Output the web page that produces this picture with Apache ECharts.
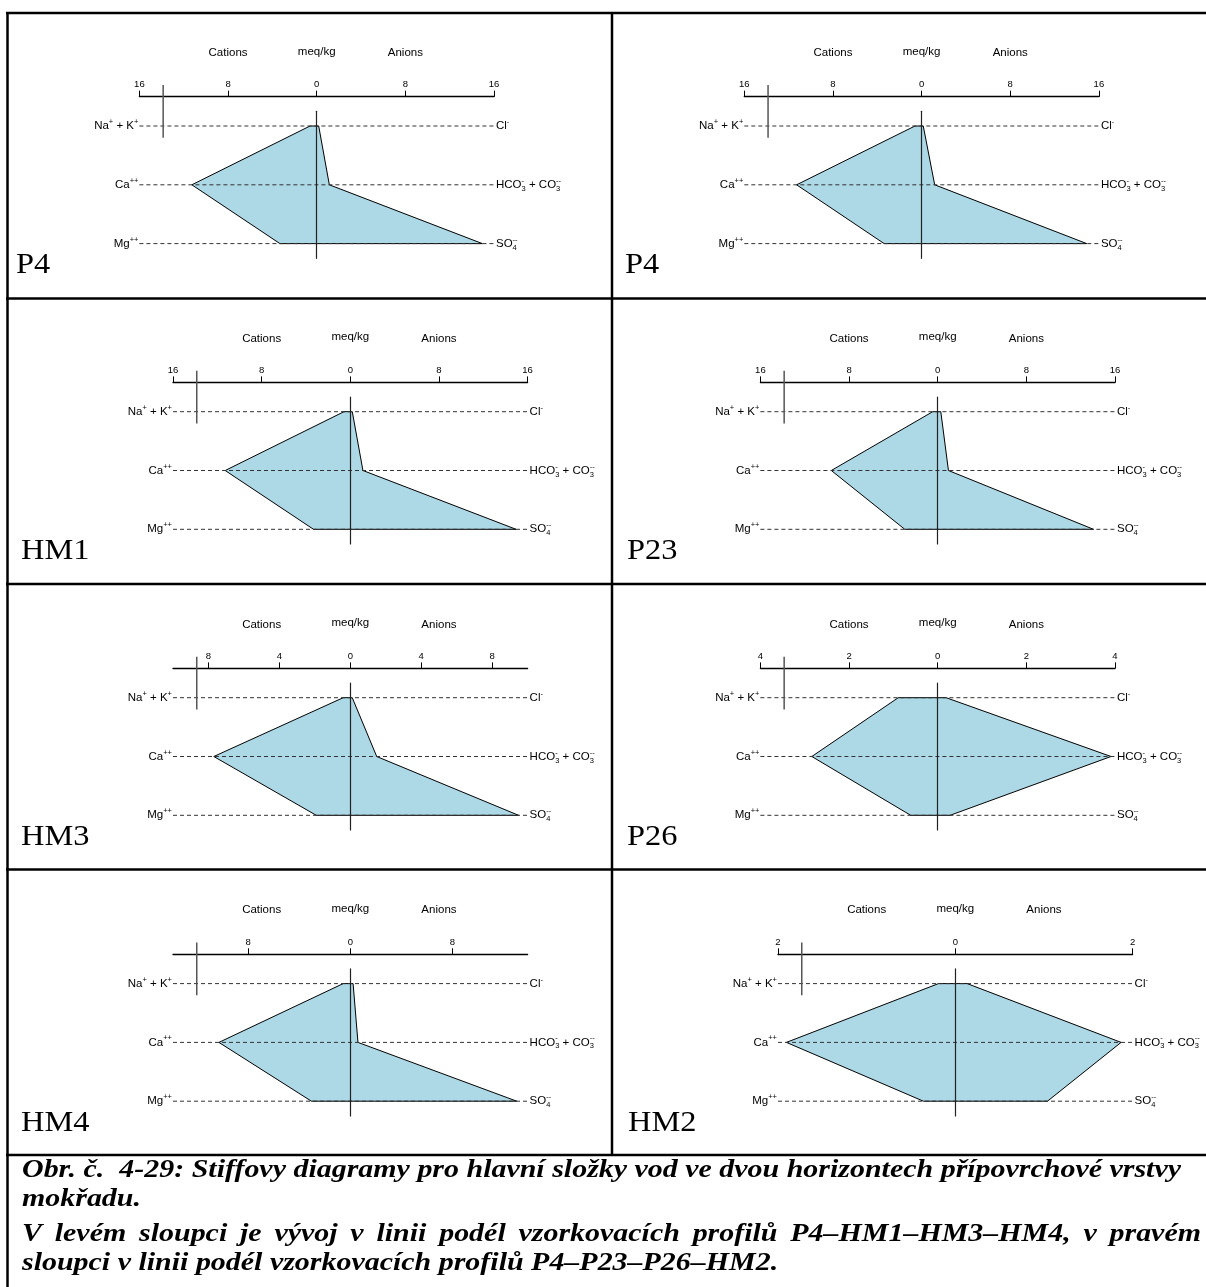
<!DOCTYPE html>
<html><head><meta charset="utf-8">
<script src="https://cdn.jsdelivr.net/npm/echarts@6/dist/echarts.min.js"></script>
<style>html,body{margin:0;padding:0;background:#fff}#c{width:1206px;height:1287px}</style>
</head><body><div id="c"></div>
<script>
// ---- data (meq/kg) ----
const panelNames = ['P4', 'P4', 'HM1', 'P23', 'HM3', 'P26', 'HM4', 'HM2'];
const naK  = [0.60, 0.60, 0.57, 0.45, 0.40, 0.89, 0.56, 0.19];
const ca   = [11.27, 11.28, 11.29, 9.60, 7.70, 2.84, 10.30, 1.905];
const mg   = [3.32, 3.38, 3.32, 2.97, 1.92, 0.61, 3.05, 0.36];
const cl   = [0.18, 0.15, 0.18, 0.28, 0.11, 0.19, 0.22, 0.134];
const hco3 = [1.14, 1.18, 1.14, 0.97, 1.49, 3.91, 0.60, 1.87];
const so4  = [14.95, 14.90, 14.96, 14.06, 9.49, 0.28, 13.05, 1.04];
const axisMax = [16, 16, 16, 16, 10, 4, 13.9, 2];
const tickValues = [
  [-16, -8, 0, 8, 16], [-16, -8, 0, 8, 16], [-16, -8, 0, 8, 16], [-16, -8, 0, 8, 16],
  [-8, -4, 0, 4, 8], [-4, -2, 0, 2, 4], [-8, 0, 8], [-2, 0, 2]
];
const cationLabels = ['Na{sup|+} + K{sup|+}', 'Ca{sup|++}', 'Mg{sup|++}'];
const anionLabels = ['Cl{sup|-}', 'HCO{supz|-}{sub|3} + CO{supz|--}{sub|3}', 'SO{supz|--}{sub|4}'];
const headerLabels = ['Cations', 'meq/kg', 'Anions'];
const captionLines = [
  'Obr. č.  4-29: Stiffovy diagramy pro hlavní složky vod ve dvou horizontech přípovrchové vrstvy',
  'mokřadu.',
  'V levém sloupci je vývoj v linii podél vzorkovacích profilů P4–HM1–HM3–HM4, v pravém',
  'sloupci v linii podél vzorkovacích profilů P4–P23–P26–HM2.'
];

// ---- layout ----
const panelCX = [316.7, 921.6, 350.3, 937.7, 350.3, 937.7, 350.3, 955.3];
const panelRow0 = [126, 126, 411.7, 411.7, 697.7, 697.7, 983.6, 983.6];
const panelLabelX = [16, 625, 21, 627, 21, 627, 21, 628];
const HALF = 177.3, ROW = 58.8;
const SANS = '"Liberation Sans", Arial, sans-serif';
const SERIF = '"Liberation Serif", "Times New Roman", serif';

const chart = echarts.init(document.getElementById('c'), null, {renderer: 'canvas'});

const richStyles = {
  sup: {fontSize: 7.5, lineHeight: 8, verticalAlign: 'top', fontFamily: SANS, fill: '#000'},
  supz: {fontSize: 7.5, lineHeight: 8, verticalAlign: 'top', fontFamily: SANS, fill: '#000', width: 0},
  sub: {fontSize: 7.5, lineHeight: 8, verticalAlign: 'bottom', fontFamily: SANS, fill: '#000'}
};

const grids = [], xAxes = [], yAxes = [], series = [];
for (let i = 0; i < 8; i++) {
  grids.push({left: panelCX[i] - HALF, top: panelRow0[i] - 0.25 * ROW, width: 2 * HALF, height: 2.5 * ROW});
  xAxes.push({
    type: 'value', gridIndex: i, position: 'top', offset: 14.6,
    min: -axisMax[i], max: axisMax[i],
    axisLine: {show: true, onZero: false, lineStyle: {color: '#000', width: 1.3}},
    axisTick: {show: true, inside: false, length: 6, customValues: tickValues[i], lineStyle: {color: '#000', width: 1}},
    axisLabel: {show: true, customValues: tickValues[i], margin: 7, fontSize: 9.5, fontFamily: SANS, color: '#000',
      formatter: v => String(Math.abs(v))},
    splitLine: {show: false}
  });
  yAxes.push({
    type: 'value', gridIndex: i, inverse: true, min: -0.25, max: 2.25, z: 10,
    axisLine: {show: true, onZero: true, lineStyle: {color: '#222', width: 1.2}},
    axisTick: {show: false}, axisLabel: {show: false}, splitLine: {show: false}
  });
  const idx = i;
  series.push({
    type: 'custom', xAxisIndex: i, yAxisIndex: i, data: [[0, 0]], silent: true, clip: false,
    renderItem: function (params, api) {
      const R = axisMax[idx];
      const pts = [[-naK[idx], 0], [-ca[idx], 1], [-mg[idx], 2], [so4[idx], 2], [hco3[idx], 1], [cl[idx], 0]]
        .map(p => api.coord(p));
      const children = [];
      children.push({type: 'polygon', shape: {points: pts},
        style: {fill: '#add8e6', stroke: '#000', lineWidth: 1}});
      for (let r = 0; r < 3; r++) {
        const a = api.coord([-R, r]), b = api.coord([R, r]);
        children.push({type: 'line', shape: {x1: a[0], y1: a[1], x2: b[0], y2: b[1]},
          style: {stroke: '#333', lineWidth: 1, lineDash: [4, 3]}});
        children.push({type: 'text', x: a[0] - 1, y: a[1],
          style: {text: cationLabels[r], rich: richStyles, fontSize: 11.5, lineHeight: 16, fontFamily: SANS,
            fill: '#000', align: 'right', verticalAlign: 'middle'}});
        children.push({type: 'text', x: b[0] + 2, y: b[1],
          style: {text: anionLabels[r], rich: richStyles, fontSize: 11.5, lineHeight: 16, fontFamily: SANS,
            fill: '#000', align: 'left', verticalAlign: 'middle'}});
      }
      const s1 = api.coord([-0.866 * R, -0.697]), s2 = api.coord([-0.866 * R, 0.2]);
      children.push({type: 'line', shape: {x1: s1[0], y1: s1[1], x2: s2[0], y2: s2[1]},
        style: {stroke: '#555', lineWidth: 1.5}});
      const hx = [-R / 2, 0, R / 2], hy = [-1.247, -1.265, -1.247];
      for (let k = 0; k < 3; k++) {
        const p = api.coord([hx[k], hy[k]]);
        children.push({type: 'text', x: p[0], y: p[1],
          style: {text: headerLabels[k], fontSize: 11.5, fontFamily: SANS, fill: '#000', align: 'center', verticalAlign: 'middle'}});
      }
      return {type: 'group', children: children};
    }
  });
}

// ---- frame & caption graphics ----
const graphics = [];
const BW = 2.5;
function hline(y, x1, x2) { graphics.push({type: 'line', shape: {x1: x1, y1: y, x2: x2, y2: y}, style: {stroke: '#000', lineWidth: BW}}); }
function vline(x, y1, y2) { graphics.push({type: 'line', shape: {x1: x, y1: y1, x2: x, y2: y2}, style: {stroke: '#000', lineWidth: BW}}); }
const rowBorders = [13, 298.5, 584, 869.5, 1155];
rowBorders.forEach(y => hline(y, 6, 1206));
vline(7.5, 12, 1287);
vline(612, 13, 1155);

for (let i = 0; i < 8; i++) {
  graphics.push({type: 'text', x: panelLabelX[i], y: panelRow0[i] + 139.5, scaleX: 1.08,
    style: {text: panelNames[i], font: '30px ' + SERIF, fill: '#000', textAlign: 'left', textVerticalAlign: 'middle'}});
}

const CAP_FONT_SIZE = 26;
const capFont = 'italic bold ' + CAP_FONT_SIZE + 'px ' + SERIF;
const capY = [1170, 1199, 1234, 1263];
const capX = 22;
const mctx = document.createElement('canvas').getContext('2d');
mctx.font = capFont;
// the caption is set horizontally wider than the font's natural width
const capScale = (1181 - capX) / mctx.measureText(captionLines[0]).width;
captionLines.forEach((line, li) => {
  if (li === 2) {
    // justified line
    const words = line.split(' ');
    const widths = words.map(w => mctx.measureText(w).width * capScale);
    const total = widths.reduce((a, b) => a + b, 0);
    const gap = (1201 - capX - total) / (words.length - 1);
    let x = capX;
    words.forEach((w, k) => {
      graphics.push({type: 'text', x: x, y: capY[li], scaleX: capScale,
        style: {text: w, font: capFont, fill: '#000', textAlign: 'left', textVerticalAlign: 'middle'}});
      x += widths[k] + gap;
    });
  } else {
    graphics.push({type: 'text', x: capX, y: capY[li], scaleX: capScale,
      style: {text: line, font: capFont, fill: '#000', textAlign: 'left', textVerticalAlign: 'middle'}});
  }
});

chart.setOption({
  backgroundColor: '#fff',
  animation: false,
  grid: grids,
  xAxis: xAxes,
  yAxis: yAxes,
  series: series,
  graphic: graphics
});
</script>
</body></html>
